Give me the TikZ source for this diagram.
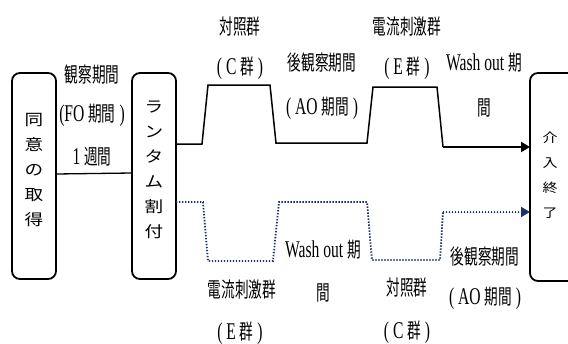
\documentclass[tikz,border=0pt]{standalone}
\usepackage{fontspec}
\setmainfont{Liberation Serif}
\newfontfamily\cjk{Noto Sans CJK JP}
\usetikzlibrary{arrows.meta,calc}
\definecolor{navy}{RGB}{28,48,110}
\newcommand\lt[1]{{\rmfamily\fontsize{24}{24}\selectfont #1}}
\newcommand\lb[1]{\scalebox{0.65}[1]{\cjk\fontsize{21}{21}\selectfont #1}}
\newcommand\wc[1]{\scalebox{1.2}[1]{#1}}
\tikzset{
  box/.style={draw, line width=1.8, rounded corners=8, inner sep=0, outer sep=0},
  boxtext/.style={align=center, inner sep=0, font=\cjk\fontsize{15.5}{25}\selectfont},
  endtext/.style={align=center, inner sep=0, font=\cjk\fontsize{12.5}{25}\selectfont},
  solidline/.style={line width=1.5, line join=miter},
  dotline/.style={navy, line width=1.8, dash pattern=on 1.4pt off 1.6pt},
  tip/.style={-{Triangle[length=9,width=10]}},
  lbl/.style={inner sep=0}
}
\begin{document}
\begin{tikzpicture}[x=1pt,y=-1pt]
\useasboundingbox (0,0) rectangle (568,343);
\clip (0,0) rectangle (568,343);
% boxes
\node[box, minimum width=44, minimum height=206] (b1) at (34,176) {};
\node[box, minimum width=44, minimum height=206] (b2) at (154,176) {};
\node[box, minimum width=50, minimum height=208] (b3) at (555,177) {};
\node[boxtext] (t1) at (34,170) {\wc{同}\\\wc{意}\\\wc{の}\\\wc{取}\\\wc{得}};
\node[boxtext] (t2) at (154,170) {\wc{ラ}\\\wc{ン}\\\wc{タ}\\\wc{ム}\\\wc{割}\\\wc{付}};
\node[endtext] (t3) at (550,175) {\wc{介}\\\wc{入}\\\wc{終}\\\wc{了}};
% connectors
\draw[line width=1.3] (b1.east |- 0,174) -- (b2.west |- 0,173);
\draw[solidline] (b2.east |- 0,144) -- (202,144) -- (208,85) -- (270,85) -- (276,143) -- (367,143) -- (373,87) -- (437,87) -- (443,147) coordinate (ta);
\draw[line width=2.4, tip] (ta) -- (ta -| b3.west);
\draw[dotline] (b2.east |- 0,202) -- (203,202) -- (208,261) -- (273,261) -- (279,202) -- (367,202) -- (372,260) -- (440,260) -- (443,212) coordinate (da);
\draw[dotline, tip, fill=navy] (da) -- (da -| b3.west);
% labels
\node[lbl] (l1) at (92,75) {\lb{観察期間}};
\node[lbl] (l2) at (92,115) {\lb{\lt{(FO }期間\lt{ )}}};
\node[lbl] (l3) at (92,157) {\lb{\lt{1 }週間}};
\node[lbl] (l4) at (240,27) {\lb{対照群}};
\node[lbl] (l5) at (240,68) {\lb{\lt{( C }群\lt{ )}}};
\node[lbl] (l6) at (322,63) {\lb{後観察期間}};
\node[lbl] (l7) at (322,108) {\lb{\lt{( AO }期間\lt{ )}}};
\node[lbl] (l8) at (407,27) {\lb{電流刺激群}};
\node[lbl] (l9) at (407,68) {\lb{\lt{( E }群\lt{ )}}};
\node[lbl] (l10) at (484,63) {\lb{\lt{Wash out }期}};
\node[lbl] (l11) at (484,108) {\lb{間}};
\node[lbl] (l12) at (323,250) {\lb{\lt{Wash out }期}};
\node[lbl] (l13) at (323,293) {\lb{間}};
\node[lbl] (l14) at (242,290) {\lb{電流刺激群}};
\node[lbl] (l15) at (240,333) {\lb{\lt{( E }群\lt{ )}}};
\node[lbl] (l16) at (407,288) {\lb{対照群}};
\node[lbl] (l17) at (407,332) {\lb{\lt{( C }群\lt{ )}}};
\node[lbl] (l18) at (485,257) {\lb{後観察期間}};
\node[lbl] (l19) at (485,298) {\lb{\lt{( AO }期間\lt{ )}}};
\end{tikzpicture}
\end{document}
